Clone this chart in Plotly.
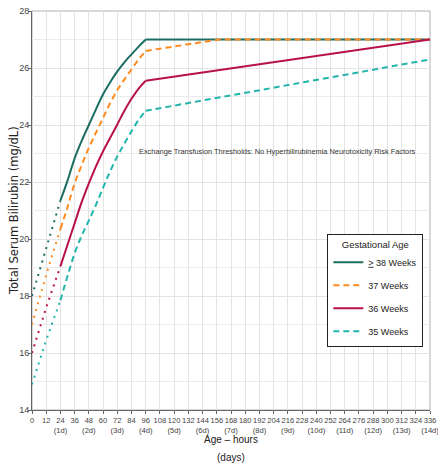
import plotly.graph_objects as go

# ---- data ----
series_names = ["<u>></u> 38 Weeks", "37 Weeks", "36 Weeks", "35 Weeks"]
series_colors = ["#1b6e62", "#ff8a1f", "#b8104a", "#22b5ad"]
series_dash = ["solid", "6px,4px", "solid", "6px,4px"]

# dotted extrapolation, 0-24 h
early_hours = [0, 12, 24]
early_38 = [18.0, 19.7, 21.35]
early_37 = [17.0, 18.75, 20.35]
early_36 = [16.0, 17.6, 19.05]
early_35 = [14.9, 16.45, 17.85]

# curved part, 24-96 h
curve_hours = [24, 30, 36, 42, 48, 54, 60, 66, 72, 78, 84, 90, 96]
curve_38 = [21.35, 22.05, 22.83, 23.45, 24.0, 24.55, 25.08, 25.5, 25.88, 26.2, 26.48, 26.75, 27.0]
curve_37 = [20.35, 21.12, 21.95, 22.6, 23.2, 23.73, 24.25, 24.77, 25.22, 25.6, 25.95, 26.3, 26.6]
curve_36 = [19.05, 19.8, 20.55, 21.3, 21.95, 22.55, 23.08, 23.55, 24.02, 24.5, 24.92, 25.28, 25.55]
curve_35 = [17.85, 18.7, 19.5, 20.12, 20.65, 21.2, 21.8, 22.38, 22.9, 23.35, 23.78, 24.18, 24.5]

# late part, after 96 h
late_hours_38 = [96, 336]
late_38 = [27.0, 27.0]
late_hours_37 = [96, 158, 336]
late_37 = [26.6, 27.0, 27.0]
late_hours_36 = [96, 336]
late_36 = [25.55, 27.0]
late_hours_35 = [96, 336]
late_35 = [24.5, 26.3]

x_ticks = list(range(0, 337, 12))
x_labels = [f"{h}<br>({h // 24}d)" if (h % 24 == 0 and h > 0) else str(h) for h in x_ticks]
y_ticks = [14, 16, 18, 20, 22, 24, 26, 28]

annotation_text = "Exchange Transfusion Thresholds: No Hyperbilirubinemia Neurotoxicity Risk Factors"
x_title = "Age – hours"
x_title_2 = "(days)"
y_title = "Total Serum Bilirubin (mg/dL)"

early = [early_38, early_37, early_36, early_35]
curves = [curve_38, curve_37, curve_36, curve_35]
late_h = [late_hours_38, late_hours_37, late_hours_36, late_hours_35]
late = [late_38, late_37, late_36, late_35]

SANS = "Liberation Sans, Arial, sans-serif"

fig = go.Figure()
for i in range(4):
    c = series_colors[i]
    fig.add_trace(go.Scatter(x=early_hours, y=early[i], mode="lines",
                             line=dict(color=c, width=2, dash="2px,5px"),
                             showlegend=False, legendgroup=str(i), hoverinfo="skip"))
    fig.add_trace(go.Scatter(x=curve_hours, y=curves[i], mode="lines",
                             line=dict(color=c, width=2, dash=series_dash[i], shape="spline", smoothing=1.0),
                             name=series_names[i], legendgroup=str(i), showlegend=True))
    fig.add_trace(go.Scatter(x=late_h[i], y=late[i], mode="lines",
                             line=dict(color=c, width=2, dash=series_dash[i]),
                             showlegend=False, legendgroup=str(i)))

fig.add_annotation(x=207, y=23.06, xref="x", yref="y", text=annotation_text,
                   showarrow=False, font=dict(family=SANS, size=7.4, color="#333"))
# axis titles
fig.add_annotation(x=0.5, y=-0.075, xref="paper", yref="paper", text=x_title,
                   showarrow=False, xanchor="center", yanchor="middle",
                   font=dict(family=SANS, size=10, color="#222"))
fig.add_annotation(x=0.5, y=-0.12, xref="paper", yref="paper", text=x_title_2,
                   showarrow=False, xanchor="center", yanchor="middle",
                   font=dict(family=SANS, size=10, color="#222"))
fig.add_annotation(x=-0.045, y=0.499, xref="paper", yref="paper", text=y_title,
                   showarrow=False, textangle=-90, xanchor="center", yanchor="middle",
                   font=dict(family="DejaVu Sans", size=11.5, color="#222"))

fig.update_layout(
    width=438, height=474,
    margin=dict(l=32, r=8, t=11, b=64, autoexpand=False),
    paper_bgcolor="white", plot_bgcolor="white",
    font=dict(family=SANS, color="#333"),
    legend=dict(x=0.742, y=0.44, xanchor="left", yanchor="top",
                bgcolor="white", bordercolor="#222", borderwidth=1,
                title=dict(text="Gestational Age", side="top center",
                           font=dict(family=SANS, size=9.5, color="#222")),
                font=dict(family=SANS, size=9, color="#222"),
                itemwidth=30, tracegroupgap=4),
    xaxis=dict(range=[0, 336], tickmode="array", tickvals=x_ticks, ticktext=x_labels,
               tickangle=0, tickfont=dict(family=SANS, size=7.6, color="#444"),
               ticklabeloverflow="allow",
               showgrid=True, gridcolor="#e4e4e4", gridwidth=1, automargin=False,
               showline=True, linecolor="#666", linewidth=1,
               ticks="outside", ticklen=3, tickcolor="#666", zeroline=False),
    yaxis=dict(range=[14, 28], tickmode="array", tickvals=y_ticks,
               tickfont=dict(family=SANS, size=9, color="#444"),
               ticklabelstandoff=-3,
               showgrid=True, gridcolor="#e4e4e4", gridwidth=1, automargin=False,
               minor=dict(dtick=1, showgrid=True, gridcolor="#ebebeb"),
               showline=True, linecolor="#666", linewidth=1,
               ticks="outside", ticklen=3, tickcolor="#666", zeroline=False),
)
fig.add_shape(type="rect", xref="paper", yref="paper", x0=0, y0=0, x1=1, y1=1,
              line=dict(color="#b0b0b0", width=1), layer="below")

fig.write_html("out.html", config={"displayModeBar": False},
               post_script="document.body.style.margin='0px';document.body.style.padding='0px';")
